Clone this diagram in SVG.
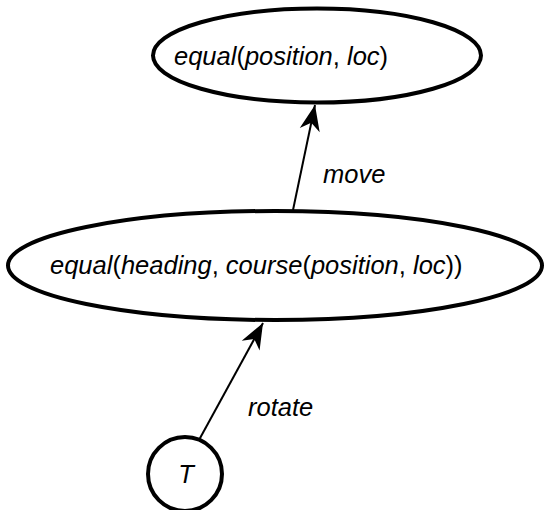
<svg xmlns="http://www.w3.org/2000/svg" width="545" height="510" viewBox="0 0 545 510">
<style>
.node{fill:#fff;stroke:#000;stroke-width:4}
.edge{stroke:#000;stroke-width:2;fill:none}
text{font-family:"Liberation Sans",Arial,sans-serif;font-size:25.5px;fill:#000}
.i{font-style:italic}
</style>
<defs>
<marker id="ah" markerUnits="userSpaceOnUse" markerWidth="30" markerHeight="30" viewBox="-26 -12 28 24" refX="0" refY="0" orient="auto">
<path d="M0,0 L-24,-9.5 L-17,0 L-24,9.5 Z" fill="#000"/>
</marker>
</defs>
<g id="connectors">
<line class="edge" x1="199" y1="440" x2="263" y2="323" marker-end="url(#ah)"/>
<line class="edge" x1="293" y1="210" x2="315" y2="105" marker-end="url(#ah)"/>
<text x="248" y="416" class="i">rotate</text>
<text x="323" y="183" class="i">move</text>
</g>
<g id="n-top">
<ellipse class="node" cx="317" cy="55.5" rx="164" ry="47"/>
<text x="174" y="65"><tspan class="i">equal</tspan>(<tspan class="i">position</tspan>, <tspan class="i">loc</tspan>)</text>
</g>
<g id="n-mid">
<ellipse class="node" cx="275" cy="265.5" rx="267" ry="54.5"/>
<text x="50" y="274"><tspan class="i">equal</tspan>(<tspan class="i">heading</tspan>, <tspan class="i">course</tspan>(<tspan class="i">position</tspan>, <tspan class="i">loc</tspan>))</text>
</g>
<g id="n-T">
<circle class="node" cx="185" cy="474" r="37"/>
<text x="186" y="483" text-anchor="middle" class="i">T</text>
</g>
</svg>
